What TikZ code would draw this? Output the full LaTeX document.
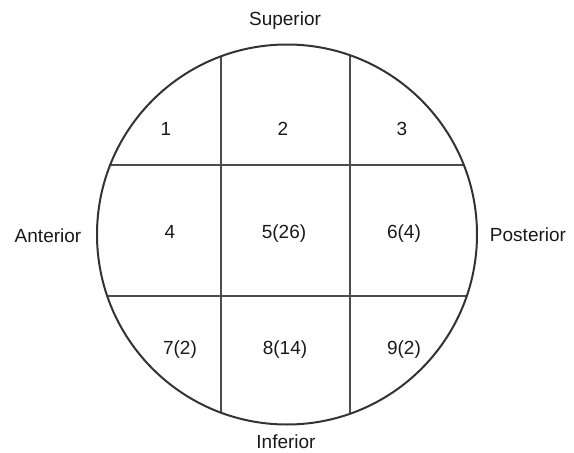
\documentclass[tikz,border=0pt]{standalone}
\usepackage{fontspec}
\setmainfont{Liberation Sans}
\begin{document}
\begin{tikzpicture}[x=1pt,y=-1pt,
  lbl/.style={anchor=base,inner sep=0pt,font=\fontsize{19}{22}\selectfont,text=black!90},
  rim/.style={draw=black!80,line width=2pt},
  chord/.style={draw=black!70,line width=2pt}]
\useasboundingbox (0,0) rectangle (574,453);
\coordinate (c) at (287,234.5);
\begin{scope}
  \clip (c) circle[radius=190];
  \coordinate (v1t) at (221,0); \coordinate (v1b) at (221,453);
  \coordinate (v2t) at (350,0); \coordinate (v2b) at (350,453);
  \coordinate (h1l) at (0,165); \coordinate (h1r) at (574,165);
  \coordinate (h2l) at (0,296); \coordinate (h2r) at (574,296);
  \draw[chord] (v1t) -- (v1b);
  \draw[chord] (v2t) -- (v2b);
  \draw[chord] (h1l) -- (h1r);
  \draw[chord] (h2l) -- (h2r);
\end{scope}
\draw[rim] (c) circle[radius=190];
\node[lbl] (sup) at (285,25) {Superior};
\node[lbl] (inf) at (286,448) {Inferior};
\node[lbl] (ant) at (48,242) {Anterior};
\node[lbl] (pos) at (528,241) {Posterior};
\node[lbl] (n1) at (166,135) {1};
\node[lbl] (n2) at (283,135) {2};
\node[lbl] (n3) at (402,135) {3};
\node[lbl] (n4) at (170,238) {4};
\node[lbl] (n5) at (284,238) {5(26)};
\node[lbl] (n6) at (404,238) {6(4)};
\node[lbl] (n7) at (180,354) {7(2)};
\node[lbl] (n8) at (285,354) {8(14)};
\node[lbl] (n9) at (404,354) {9(2)};
\end{tikzpicture}
\end{document}
